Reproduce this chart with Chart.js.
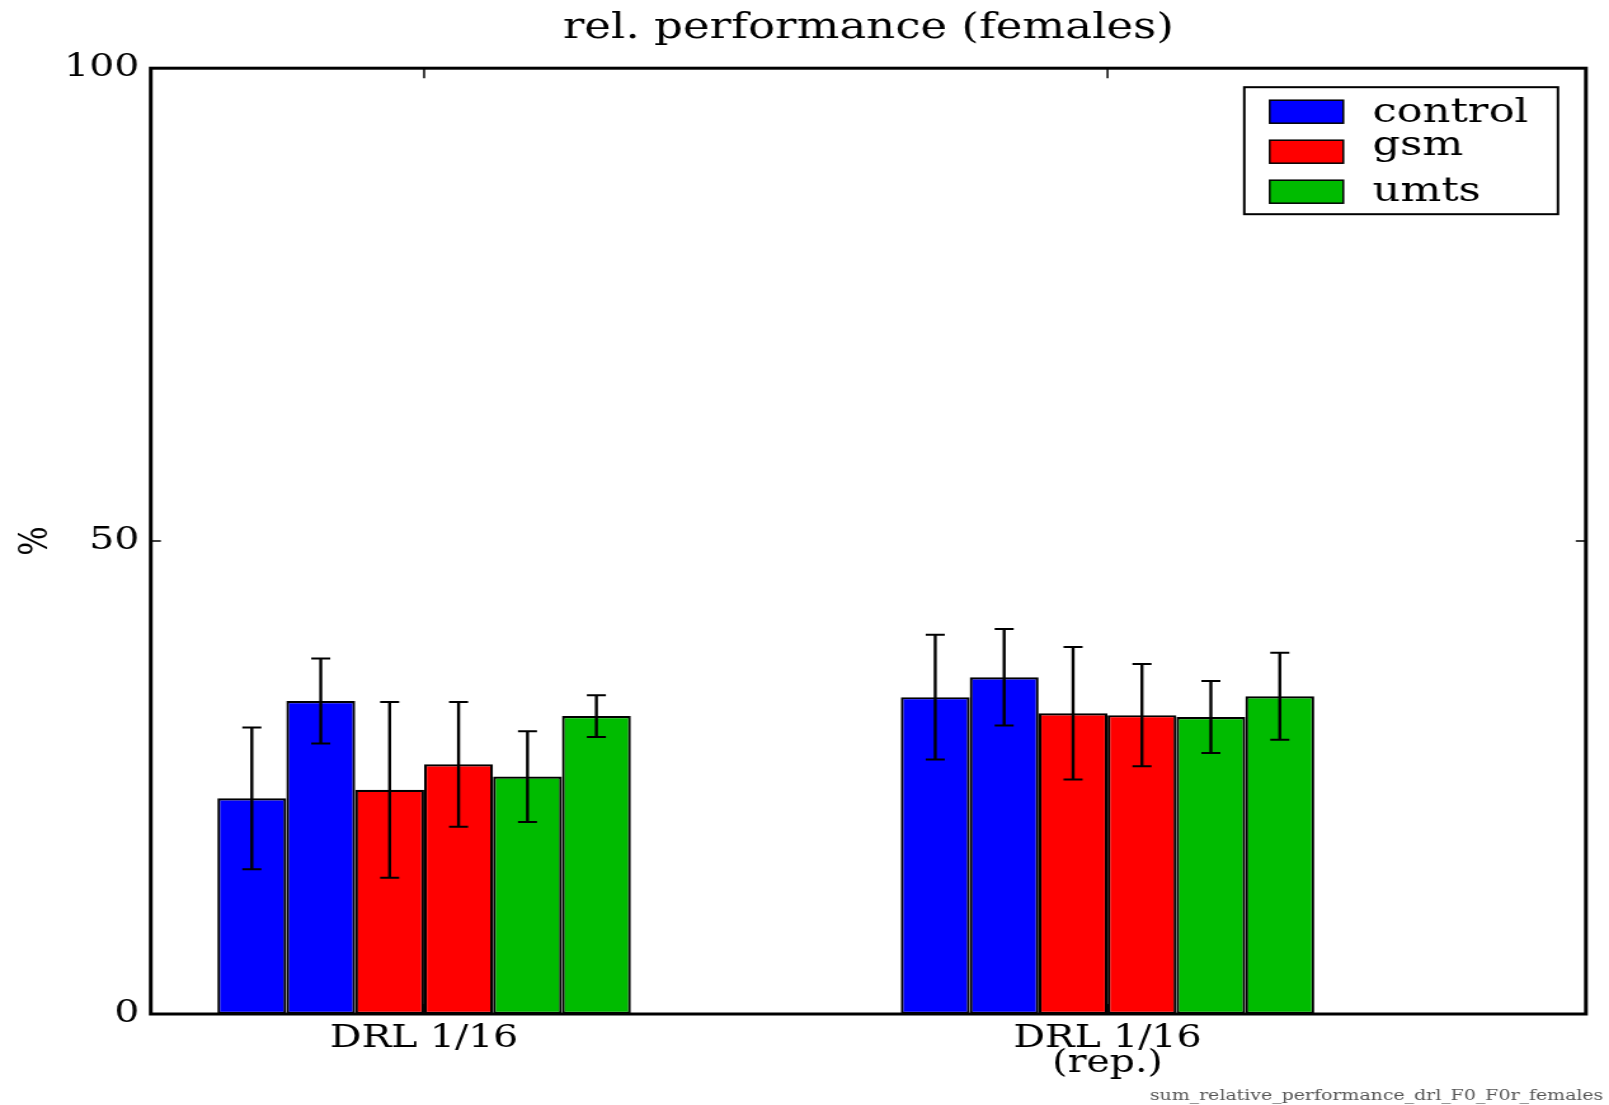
<!DOCTYPE html>
<html>
<head>
<meta charset="utf-8">
<title>rel. performance (females)</title>
<script src="https://cdn.jsdelivr.net/npm/chart.js@4.4.1/dist/chart.umd.min.js"></script>
<style>
  html, body { margin: 0; padding: 0; background: #fff; }
  #chart { display: block; }
</style>
</head>
<body>
<!-- the original figure is stretched sideways, so draw narrow and widen with an inline css size -->
<canvas id="chart" width="1267" height="1105" style="width:1609px;height:1105px"></canvas>
<script>
const chartTitle = 'rel. performance (females)';
const categories = [['DRL 1/16'], ['DRL 1/16', '(rep.)']];
const seriesNames = ['control', 'gsm', 'umts'];
const seriesColors = ['#0000ff', '#ff0000', '#00bb00'];
const yTicks = [0, 50, 100];
const footnoteText = 'sum_relative_performance_drl_F0_F0r_females';

// two bars per series in each group
const controlA = [22.8, 33.5];
const controlB = [33.1, 35.6];
const gsmA = [23.7, 31.8];
const gsmB = [26.4, 31.6];
const umtsA = [25.1, 31.4];
const umtsB = [31.5, 33.6];

const controlAErr = [7.5, 6.6];
const controlBErr = [4.5, 5.1];
const gsmAErr = [9.3, 7.0];
const gsmBErr = [6.6, 5.4];
const umtsAErr = [4.8, 3.8];
const umtsBErr = [2.2, 4.6];

const FONT = "'DejaVu Serif', serif";

const bars = [
    { series: 0, values: controlA, errors: controlAErr },
    { series: 0, values: controlB, errors: controlBErr },
    { series: 1, values: gsmA, errors: gsmAErr },
    { series: 1, values: gsmB, errors: gsmBErr },
    { series: 2, values: umtsA, errors: umtsAErr },
    { series: 2, values: umtsB, errors: umtsBErr }
];

const datasets = bars.map(b => ({
    label: seriesNames[b.series],
    data: b.values.map((v, i) => ({ x: i, y: v })),
    errors: b.errors,
    backgroundColor: seriesColors[b.series],
    borderColor: '#000',
    borderWidth: 2.2,
    borderSkipped: false,
    categoryPercentage: 0.605,
    barPercentage: 1
}));

// title is centred over the plot box, not the canvas
const plotTitle = {
    id: 'plotTitle',
    afterDraw(chart) {
        const { ctx, chartArea: a } = chart;
        ctx.save();
        ctx.font = `35.5px ${FONT}`;
        ctx.fillStyle = '#000';
        ctx.textAlign = 'center';
        ctx.textBaseline = 'middle';
        ctx.fillText(chartTitle, (a.left + a.right) / 2, 29);
        ctx.restore();
    }
};

const errorBars = {
    id: 'errorBars',
    afterDatasetsDraw(chart) {
        const { ctx } = chart;
        const y = chart.scales.y;
        ctx.save();
        ctx.strokeStyle = '#000';
        chart.data.datasets.forEach((ds, i) => {
            chart.getDatasetMeta(i).data.forEach((bar, j) => {
                const v = ds.data[j].y;
                const e = ds.errors[j];
                const top = y.getPixelForValue(v + e);
                const bottom = y.getPixelForValue(v - e);
                ctx.lineWidth = 2.4;
                ctx.beginPath();
                ctx.moveTo(bar.x, top);
                ctx.lineTo(bar.x, bottom);
                ctx.stroke();
                ctx.lineWidth = 2;
                ctx.beginPath();
                ctx.moveTo(bar.x - 7.5, top);
                ctx.lineTo(bar.x + 7.5, top);
                ctx.moveTo(bar.x - 7.5, bottom);
                ctx.lineTo(bar.x + 7.5, bottom);
                ctx.stroke();
            });
        });
        ctx.restore();
    }
};

// matplotlib style box with inward ticks on every side
const frame = {
    id: 'frame',
    afterDraw(chart) {
        const { ctx, chartArea: a } = chart;
        const { x, y } = chart.scales;
        ctx.save();
        ctx.strokeStyle = '#000';
        ctx.lineWidth = 1.5;
        ctx.beginPath();
        yTicks.forEach(v => {
            const py = y.getPixelForValue(v);
            ctx.moveTo(a.left, py); ctx.lineTo(a.left + 8, py);
            ctx.moveTo(a.right - 8, py); ctx.lineTo(a.right, py);
        });
        categories.forEach((c, i) => {
            const px = x.getPixelForValue(i);
            ctx.moveTo(px, a.top); ctx.lineTo(px, a.top + 10);
            ctx.moveTo(px, a.bottom - 10); ctx.lineTo(px, a.bottom);
        });
        ctx.stroke();
        ctx.lineWidth = 3;
        ctx.strokeRect(a.left, a.top, a.right - a.left, a.bottom - a.top);
        ctx.restore();
    }
};

const legendBox = {
    id: 'legendBox',
    afterDraw(chart) {
        const { ctx, chartArea: a } = chart;
        const w = 247, h = 127;
        const bx = a.right - 22 - w;
        const by = a.top + 19;
        ctx.save();
        ctx.fillStyle = '#fff';
        ctx.fillRect(bx, by, w, h);
        ctx.strokeStyle = '#000';
        ctx.lineWidth = 2;
        ctx.strokeRect(bx, by, w, h);
        ctx.font = `34px ${FONT}`;
        ctx.textBaseline = 'alphabetic';
        seriesNames.forEach((name, i) => {
            const cy = by + 24.5 + i * 40;
            ctx.fillStyle = seriesColors[i];
            ctx.fillRect(bx + 20, cy - 11.5, 58, 23);
            ctx.lineWidth = 1.5;
            ctx.strokeRect(bx + 20, cy - 11.5, 58, 23);
            const m = ctx.measureText(name);
            ctx.fillStyle = '#000';
            ctx.fillText(name, bx + 101, cy - 2.5 + (m.actualBoundingBoxAscent - m.actualBoundingBoxDescent) / 2);
        });
        ctx.restore();
    }
};

const footnote = {
    id: 'footnote',
    afterDraw(chart) {
        const { ctx } = chart;
        ctx.save();
        ctx.font = `14.9px ${FONT}`;
        ctx.fillStyle = '#555';
        ctx.textAlign = 'right';
        ctx.textBaseline = 'alphabetic';
        ctx.fillText(footnoteText, chart.width - 4.5, chart.height - 5);
        ctx.restore();
    }
};

new Chart(document.getElementById('chart'), {
    type: 'bar',
    data: { datasets },
    plugins: [errorBars, frame, legendBox, plotTitle, footnote],
    options: {
        responsive: false,
        devicePixelRatio: 1,
        animation: false,
        layout: { padding: { left: 0, right: 18.2, top: 68.2, bottom: 0 } },
        plugins: {
            legend: { display: false },
            tooltip: { enabled: false },
            title: { display: false }
        },
        scales: {
            x: {
                type: 'linear',
                min: -0.4,
                max: 1.7,
                offset: false,
                afterBuildTicks: s => { s.ticks = categories.map((c, i) => ({ value: i })); },
                afterFit: s => { s.height = 91; },
                grid: { display: false, drawTicks: false, offset: false },
                border: { display: false },
                ticks: {
                    color: '#000',
                    font: { family: FONT, size: 31, lineHeight: 0.8 },
                    padding: 13,
                    maxRotation: 0,
                    autoSkip: false,
                    callback: v => categories[v]
                }
            },
            y: {
                min: 0,
                max: 100,
                afterBuildTicks: s => { s.ticks = yTicks.map(v => ({ value: v })); },
                afterFit: s => { s.width = 118.7; },
                grid: { display: false, drawTicks: false },
                border: { display: false },
                ticks: { color: '#000', font: { family: FONT, size: 31 }, padding: 9 },
                title: {
                    display: true,
                    text: '%',
                    color: '#000',
                    font: { family: FONT, size: 31, lineHeight: 1.2 },
                    padding: { top: 10.5, bottom: 0 }
                }
            }
        }
    }
});
</script>
</body>
</html>
